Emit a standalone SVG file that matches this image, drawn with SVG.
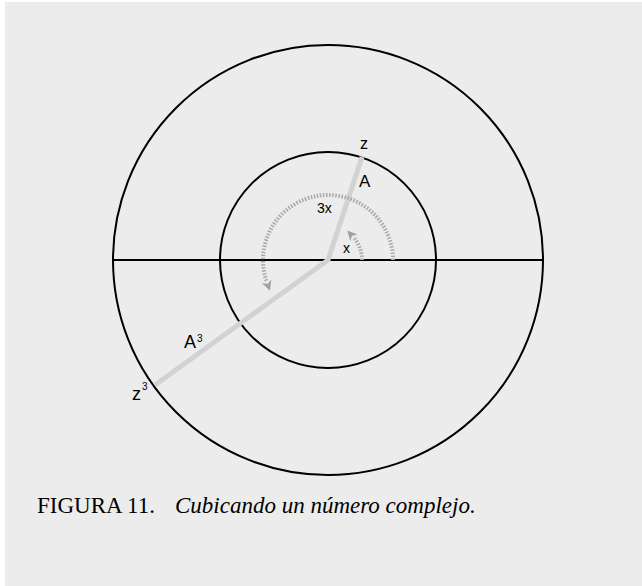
<svg xmlns="http://www.w3.org/2000/svg" width="642" height="586" viewBox="0 0 642 586">
<defs>
<style>
.bk{fill:none;stroke:#000;stroke-width:2}
.ray{fill:none;stroke:#d2d2d2;stroke-width:5;stroke-linejoin:round}
.dot{fill:none;stroke:#a8a8a8;stroke-width:4;stroke-dasharray:1.5 1.6}
.lbl{font-family:"Liberation Sans",Arial,sans-serif;fill:#000}
.cap{font-family:"Liberation Serif","Times New Roman",serif;font-size:23px;fill:#000}
</style>
<marker id="ah" markerUnits="userSpaceOnUse" markerWidth="12" markerHeight="12" refX="1" refY="5" orient="auto">
<path d="M0,0 L10,5 L0,10 L3,5 Z" fill="#a0a0a0"/>
</marker>
</defs>
<rect x="0" y="0" width="642" height="586" fill="#ffffff"/>
<rect x="5" y="2" width="637" height="584" fill="#ececec"/>
<g id="outer-circle"><circle class="bk" cx="328" cy="260" r="215"/></g>
<g id="inner-circle"><circle class="bk" cx="328" cy="260" r="108"/></g>
<g id="connectors">
<line class="bk" x1="113" y1="260" x2="543" y2="260"/>
<polyline class="ray" points="362,157 328,260 155,385"/>
<path class="dot" d="M393,260 A65,65 0 1,0 266.9,282.2" marker-end="url(#ah)"/>
<path class="dot" d="M362,260 A34,34 0 0,0 353.3,237.2" marker-end="url(#ah)"/>
</g>
<g id="labels">
<text class="lbl" x="360" y="149" font-size="16">z</text>
<text class="lbl" x="359" y="187" font-size="17">A</text>
<text class="lbl" x="317" y="213" font-size="14">3x</text>
<text class="lbl" x="343" y="253" font-size="14">x</text>
<text class="lbl" x="184" y="348" font-size="18">A</text>
<text class="lbl" x="197" y="342" font-size="10">3</text>
<text class="lbl" x="132" y="400" font-size="18">z</text>
<text class="lbl" x="142" y="390" font-size="10">3</text>
</g>
<g id="caption">
<text class="cap" x="37" y="513">FIGURA 11.</text>
<text class="cap" x="175" y="513" font-style="italic">Cubicando un número complejo.</text>
</g>
</svg>
